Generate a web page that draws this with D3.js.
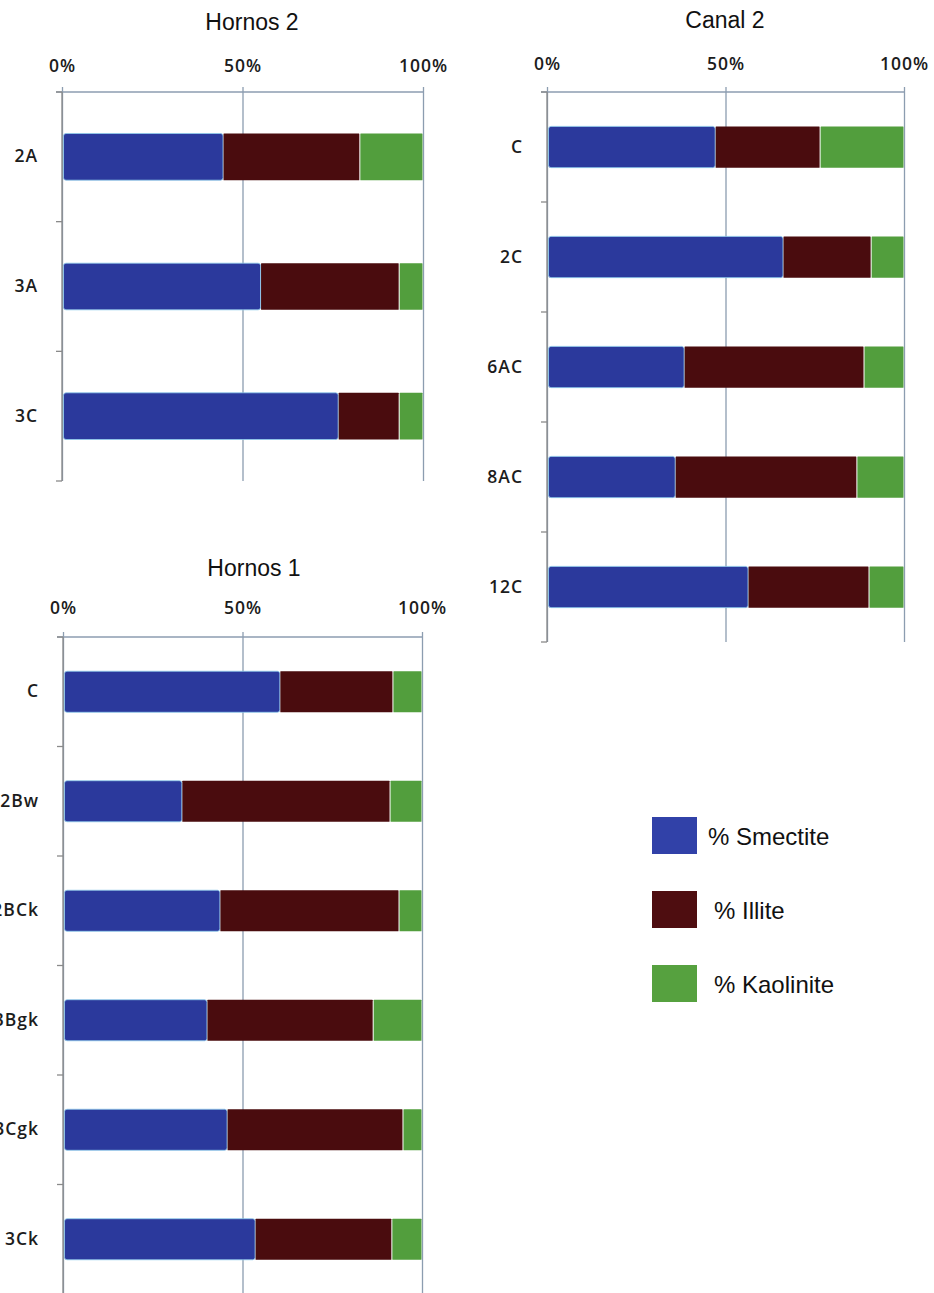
<!DOCTYPE html>
<html>
<head>
<meta charset="utf-8">
<script src="https://cdn.jsdelivr.net/npm/d3@7"></script>
<style>
  html, body { margin: 0; padding: 0; background: #fff; }
  svg { display: block; }
</style>
</head>
<body>
<svg id="chart" width="934" height="1293"></svg>
<script>
// ---- Data ----
const seriesNames = ["% Smectite", "% Illite", "% Kaolinite"];
const tickValues = [0, 50, 100];

const hornos2Cats = ["2A", "3A", "3C"];
const hornos2Smectite = [44.6, 55.0, 76.5];
const hornos2Illite = [37.9, 38.4, 16.9];
const hornos2Kaolinite = [17.5, 6.6, 6.6];

const canal2Cats = ["C", "2C", "6AC", "8AC", "12C"];
const canal2Smectite = [47.1, 66.1, 38.4, 35.9, 56.3];
const canal2Illite = [29.4, 24.7, 50.4, 50.9, 33.9];
const canal2Kaolinite = [23.5, 9.2, 11.2, 13.2, 9.8];

const hornos1Cats = ["C", "2Bw", "2BCk", "3Bgk", "3Cgk", "3Ck"];
const hornos1Smectite = [60.4, 33.1, 43.7, 40.1, 45.7, 53.5];
const hornos1Illite = [31.5, 58.0, 49.9, 46.3, 49.0, 38.1];
const hornos1Kaolinite = [8.1, 8.9, 6.4, 13.6, 5.3, 8.4];

// ---- Styling / layout ----
const colors = ["#2b399c", "#4a0c0e", "#529e3d"];
const legendColors = ["#3141a8", "#4e0d10", "#56a13f"];
const gridColor = "#8c9db0";
const axisColor = "#8a8a8a";
const labelFont = "'Open Sans', sans-serif";
const titleFont = "'Liberation Sans', Arial, sans-serif";

const panels = [
  { title: "Hornos 2", cats: hornos2Cats, vals: [hornos2Smectite, hornos2Illite, hornos2Kaolinite],
    x0: 62, x1: 423, y0: 92, y1: 481, titleX: 252, titleY: 22, tickY: 65, pad: 0.64 },
  { title: "Canal 2", cats: canal2Cats, vals: [canal2Smectite, canal2Illite, canal2Kaolinite],
    x0: 547, x1: 904, y0: 92, y1: 642, titleX: 725, titleY: 20, tickY: 63, pad: 0.625 },
  { title: "Hornos 1", cats: hornos1Cats, vals: [hornos1Smectite, hornos1Illite, hornos1Kaolinite],
    x0: 63, x1: 422, y0: 637, y1: 1294, titleX: 254, titleY: 568, tickY: 607, pad: 0.625 }
];

const svg = d3.select("#chart");

panels.forEach(p => {
  const g = svg.append("g");
  const x = d3.scaleLinear().domain([0, 100]).range([p.x0, p.x1]);
  const y = d3.scaleBand().domain(p.cats).range([p.y0, p.y1]).paddingInner(p.pad).paddingOuter(p.pad / 2);
  const yStep = d3.scaleBand().domain(p.cats).range([p.y0, p.y1]).padding(0);

  // Title
  g.append("text")
    .attr("x", p.titleX).attr("y", p.titleY)
    .attr("text-anchor", "middle").attr("dominant-baseline", "central")
    .attr("font-family", titleFont).attr("font-size", 23).attr("fill", "#111")
    .text(p.title);

  // Top value axis with gridlines
  const xAxis = d3.axisTop(x).tickValues(tickValues).tickFormat(d => d + "%")
    .tickSizeInner(-(p.y1 - p.y0)).tickSizeOuter(0).tickPadding(0);
  const xa = g.append("g").attr("transform", `translate(0,${p.y0})`).call(xAxis);
  xa.select(".domain").remove();
  xa.selectAll(".tick line")
    .attr("y1", -5).attr("y2", p.y1 - p.y0)
    .attr("stroke", gridColor).attr("stroke-width", 1.3);
  xa.selectAll(".tick text")
    .attr("y", p.tickY - p.y0).attr("dy", null)
    .attr("dominant-baseline", "central")
    .attr("font-family", labelFont).attr("font-size", 17.5).attr("font-weight", 600)
    .attr("letter-spacing", 1).attr("fill", "#1c1c1c");
  // top horizontal axis line
  g.append("line")
    .attr("x1", x(0) - 6).attr("x2", x(100)).attr("y1", p.y0).attr("y2", p.y0)
    .attr("stroke", gridColor).attr("stroke-width", 1.3);

  // Left category axis
  const yAxis = d3.axisLeft(y).tickSize(0).tickPadding(24);
  const ya = g.append("g").attr("transform", `translate(${x(0)},0)`).call(yAxis);
  ya.select(".domain").attr("stroke", axisColor).attr("stroke-width", 1.3)
    .attr("d", `M0,${p.y0}V${p.y1}`);
  ya.selectAll(".tick text")
    .attr("font-family", labelFont).attr("font-size", 17.5).attr("font-weight", 600)
    .attr("letter-spacing", 1).attr("fill", "#1c1c1c");
  // boundary ticks between categories
  const bounds = p.cats.map(c => yStep(c)).concat([yStep(p.cats[p.cats.length - 1]) + yStep.bandwidth()]);
  g.selectAll(null).data(bounds).enter().append("line")
    .attr("x1", x(0) - 6).attr("x2", x(0))
    .attr("y1", d => d).attr("y2", d => d)
    .attr("stroke", axisColor).attr("stroke-width", 1.3);

  // Stacked bars
  const rows = p.cats.map((c, i) => ({ cat: c, v: p.vals.map(s => s[i]) }));
  rows.forEach(r => {
    let acc = 0;
    r.v.forEach((val, si) => {
      g.append("rect")
        .attr("x", x(acc) + (si === 0 ? 1.5 : 0.5))
        .attr("y", y(r.cat))
        .attr("width", Math.max(0, x(acc + val) - x(acc) - (si === 0 ? 1.5 : 1)))
        .attr("height", y.bandwidth())
        .attr("rx", si === 0 ? 2.5 : 0.5)
        .attr("fill", colors[si])
        .attr("stroke", si === 0 ? "#8fcdec" : "none")
        .attr("stroke-width", si === 0 ? 0.8 : 0);
      acc += val;
    });
  });
});

// Legend
const legendY = d3.scalePoint().domain(seriesNames).range([835, 983]);
const legendTextX = [708, 714, 714];
const lg = svg.append("g");
seriesNames.forEach((n, i) => {
  lg.append("rect")
    .attr("x", 652).attr("y", legendY(n) - 18)
    .attr("width", 45).attr("height", 37)
    .attr("fill", legendColors[i]);
  lg.append("text")
    .attr("x", legendTextX[i]).attr("y", legendY(n) + 1)
    .attr("dominant-baseline", "central")
    .attr("font-family", titleFont).attr("font-size", 24).attr("fill", "#111")
    .text(n);
});
</script>
</body>
</html>
